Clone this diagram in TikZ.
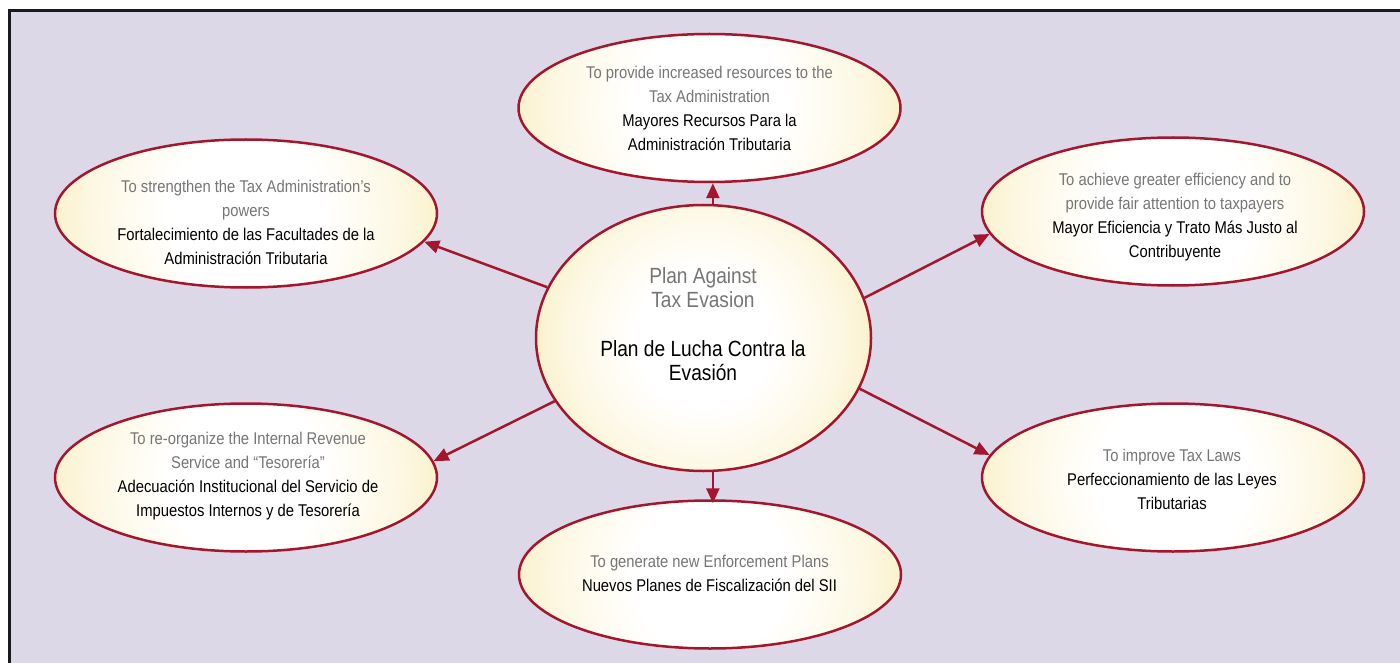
\documentclass[tikz,border=0pt]{standalone}
\usepackage{fontspec}
\setmainfont{Liberation Sans}[FakeStretch=0.87]
\usetikzlibrary{shapes.geometric,arrows.meta}
\definecolor{lav}{RGB}{221,216,231}
\definecolor{redc}{RGB}{163,22,46}
\definecolor{eggedge}{RGB}{239,213,110}
\definecolor{eggmid}{RGB}{253,248,228}
\definecolor{greyc}{RGB}{118,118,118}
\definecolor{framec}{RGB}{26,26,26}
\pgfdeclareradialshading{eggshade}{\pgfpoint{0bp}{0bp}}{color(0bp)=(white); color(10bp)=(white); color(20bp)=(eggmid); color(46bp)=(eggedge); color(50bp)=(eggedge)}
\newcommand{\greytxt}[1]{\textcolor{greyc}{#1}}
\tikzset{
  egg/.style={ellipse, draw=redc, line width=2.5pt, inner sep=0pt,
    minimum width=382pt, minimum height=148pt,
    path picture={\shade[shading=eggshade] (path picture bounding box.center) circle[radius=#1];}},
  egg/.default=191pt,
  txt/.style={align=center, inner sep=0pt, font=\fontsize{17}{24}\selectfont},
  bigtxt/.style={align=center, inner sep=0pt, font=\fontsize{22}{24}\selectfont},
  conn/.style={draw=redc, line width=2.5pt, -{Triangle[length=15pt,width=13pt]}}
}
\begin{document}
\begin{tikzpicture}[x=1pt,y=-1pt]
\useasboundingbox (0,0) rectangle (1400,663);
\fill[white] (0,0) rectangle (1400,663);
\fill[lav] (9.5,10.5) rectangle (1400,663);
\draw[framec, line width=3pt] (9.5,663) -- (9.5,10.5) -- (1400,10.5);

% ellipses
\node[egg=167pt, minimum width=335pt, minimum height=266pt] (C) at (703.5,338) {};
\node[egg] (T) at (709.5,108) {};
\node[egg] (UL) at (246,213.5) {};
\node[egg] (UR) at (1173,211.5) {};
\node[egg] (LL) at (246,477.5) {};
\node[egg] (LR) at (1173,477.5) {};
\node[egg] (B) at (710,574.5) {};

% texts
\node[bigtxt] (Ct) at (703,324) {\greytxt{Plan Against}\\\greytxt{Tax Evasion}\\[25pt]Plan de Lucha Contra la\\Evasión};
\node[txt] (Tt) at (709.5,108) {\greytxt{To provide increased resources to the}\\\greytxt{Tax Administration}\\Mayores Recursos Para la\\Administración Tributaria};
\node[txt] (ULt) at (246,222) {\greytxt{To strengthen the Tax Administration’s}\\\greytxt{powers}\\Fortalecimiento de las Facultades de la\\Administración Tributaria};
\node[txt] (URt) at (1175,217.5) {\greytxt{To achieve greater efficiency and to}\\\greytxt{provide fair attention to taxpayers}\\Mayor Eficiencia y Trato Más Justo al\\Contribuyente};
\node[txt] (LLt) at (248,476.5) {\greytxt{To re-organize the Internal Revenue}\\\greytxt{Service and “Tesorería”}\\Adecuación Institucional del Servicio de\\Impuestos Internos y de Tesorería};
\node[txt] (LRt) at (1172,479.5) {\greytxt{To improve Tax Laws}\\Perfeccionamiento de las Leyes\\Tributarias};
\node[txt] (Bt) at (709.5,573) {\greytxt{To generate new Enforcement Plans}\\Nuevos Planes de Fiscalización del SII};

% connectors
\draw[conn] (C.162.8) -- (UL.-9.1);
\draw[conn] (C.14.2) -- (UR.187.2);
\draw[conn] (C.203.9) -- (LL.5.1);
\draw[conn] (C.-18.4) -- (LR.173.2);
\draw[conn] (C.86.8) -- (C.86.8 |- T.south);
\draw[conn] (C.-86.8) -- ([yshift=-4pt]C.-86.8 |- B.north);
\end{tikzpicture}
\end{document}
